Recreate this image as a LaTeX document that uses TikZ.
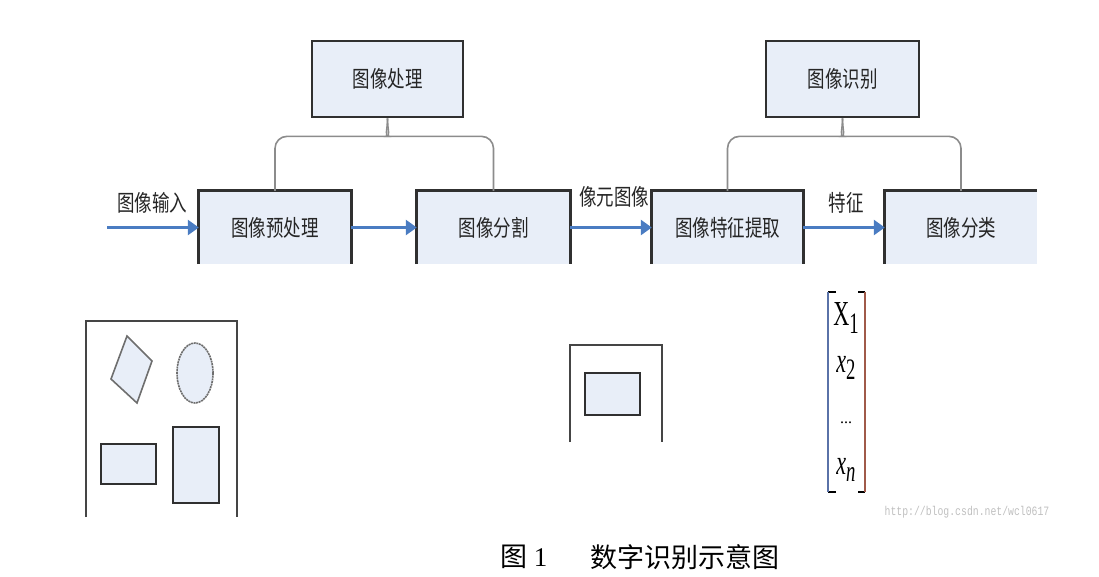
\documentclass[tikz,border=0pt]{standalone}
\usepackage{graphicx}
\usepackage{fontspec}
\setmainfont{Liberation Serif}
\newfontfamily\cjk{Noto Sans CJK SC}
\newfontfamily\wmfont{Liberation Mono}
\usetikzlibrary{arrows.meta,calc}
\definecolor{boxfill}{HTML}{E8EEF8}
\definecolor{boxline}{HTML}{303030}
\definecolor{arrowblue}{HTML}{4A7CC2}
\definecolor{bracegray}{HTML}{8C8C8C}
\definecolor{shapegray}{HTML}{6E6E6E}
\definecolor{brkblue}{HTML}{5A72A8}
\definecolor{brkred}{HTML}{A05A4A}
\newcommand{\tallt}[1]{\scalebox{1}[1.3]{#1}}
\newcommand{\tallm}[1]{\scalebox{0.85}[1.35]{#1}}
\begin{document}
\begin{tikzpicture}[x=1pt,y=-1pt,
  cjkfont/.style={font=\cjk\fontsize{17.5}{20}\selectfont, text=black!85},
  topbox/.style={cjkfont, fill=boxfill, draw=boxline, line width=2.7pt, inner sep=0pt, minimum height=76pt},
  stagebox/.style={cjkfont, fill=boxfill, inner sep=0pt, minimum height=73pt},
  boxedge/.style={draw=boxline, line width=2.7pt},
  flow/.style={draw=arrowblue, line width=2.6pt, -{Triangle[length=11pt,width=15pt]}},
  brace/.style={draw=bracegray, line width=1.6pt},
  lbl/.style={cjkfont, inner sep=0pt},
  frame/.style={draw=boxline!90, line width=2.2pt},
  thinshape/.style={draw=shapegray, line width=1.6pt, fill=boxfill},
  thickshape/.style={draw=boxline, line width=2.5pt, fill=boxfill},
  entry/.style={font=\fontsize{26}{28}\selectfont, inner sep=0pt}
]
\useasboundingbox (0,0) rectangle (1099,576);

% top boxes
\node[topbox, minimum width=151pt] (proc) at (387.5,79) {\tallt{图像处理}};
\node[topbox, minimum width=153pt] (rec) at (842.5,79) {\tallt{图像识别}};

% stage boxes
\node[stagebox, minimum width=152pt] (pre) at (275,227.5) {\tallt{图像预处理}};
\node[stagebox, minimum width=153pt] (seg) at (493.5,227.5) {\tallt{图像分割}};
\node[stagebox, minimum width=151pt] (feat) at (727.5,227.5) {\tallt{图像特征提取}};
\node[stagebox, minimum width=152pt] (cls) at (961,227.5) {\tallt{图像分类}};
\draw[boxedge] (pre.south west) |- (pre.north east) -- (pre.south east);
\draw[boxedge] (seg.south west) |- (seg.north east) -- (seg.south east);
\draw[boxedge] (feat.south west) |- (feat.north east) -- (feat.south east);
\draw[boxedge] (cls.south west) |- (cls.north east);

% braces
\draw[brace] (pre.north) [rounded corners=12pt] |- ($(proc.south)+(-11,18)$) [sharp corners] .. controls +(8,0) and +(0,12) .. (proc.south);
\draw[brace] (seg.north) [rounded corners=12pt] |- ($(proc.south)+(11,18)$) [sharp corners] .. controls +(-8,0) and +(0,12) .. (proc.south);
\draw[brace] (feat.north) [rounded corners=12pt] |- ($(rec.south)+(-11,18)$) [sharp corners] .. controls +(8,0) and +(0,12) .. (rec.south);
\draw[brace] (cls.north) [rounded corners=12pt] |- ($(rec.south)+(11,18)$) [sharp corners] .. controls +(-8,0) and +(0,12) .. (rec.south);

% arrows
\coordinate (inp) at (107,227.5);
\draw[flow] (inp) -- (pre.west);
\draw[flow] (pre.east) -- (seg.west);
\draw[flow] (seg.east) -- (feat.west);
\draw[flow] (feat.east) -- (cls.west);
\node[lbl] (linp) at (152,203) {\tallt{图像输入}};
\node[lbl] (lpix) at (614,197) {\tallt{像元图像}};
\node[lbl] (lfea) at (846,203) {\tallt{特征}};

% left picture
\draw[frame] (86,517) |- (237,321) -- (237,517);
\draw[thinshape] (127,336) -- (152,361) -- (137,403) -- (111,379) -- cycle;
\draw[thinshape, dash pattern=on 2pt off 0.7pt] (195,373) ellipse [x radius=18, y radius=30];
\draw[thickshape] (101,444) rectangle (156,484);
\draw[thickshape] (173,427) rectangle (219,503);

% middle picture
\draw[frame] (570,442) |- (662,345) -- (662,442);
\draw[thickshape] (585,373) rectangle (640,415);

% feature vector
\draw[draw=black, line width=1.4pt] (836,292) -- (828,292);
\draw[draw=black, line width=1.4pt] (836,492) -- (828,492);
\draw[draw=brkblue, line width=1.4pt] (828,292) -- (828,492);
\draw[draw=black, line width=1.4pt] (858,292) -- (865,292);
\draw[draw=black, line width=1.4pt] (858,492) -- (865,492);
\draw[draw=brkred, line width=1.4pt] (865,292) -- (865,492);
\node[entry] (m1) at (846,318) {\tallm{X\raisebox{-0.45ex}{\fontsize{22}{24}\selectfont 1}}};
\node[entry] (m2) at (846,368) {\tallm{\textit{x}\raisebox{-0.45ex}{\fontsize{22}{24}\selectfont 2}}};
\node[entry] (m3) at (846,423) {\fontsize{16}{18}\selectfont ...};
\node[entry] (m4) at (846,470) {\tallm{\textit{x}\raisebox{-0.45ex}{\fontsize{22}{24}\selectfont\textit{n}}}};

% watermark
\node[font=\wmfont\fontsize{9.8}{11}\selectfont, text=black!25, inner sep=0pt] (wm) at (967,512) {\tallt{http://blog.csdn.net/wcl0617}};

% caption
\node[font=\fontsize{27}{30}\selectfont, inner sep=0pt, anchor=west] (cap1) at (500,557) {{\cjk 图} 1};
\node[font=\cjk\fontsize{27}{30}\selectfont, inner sep=0pt, anchor=west] (cap2) at (590,557) {数字识别示意图};
\end{tikzpicture}
\end{document}
